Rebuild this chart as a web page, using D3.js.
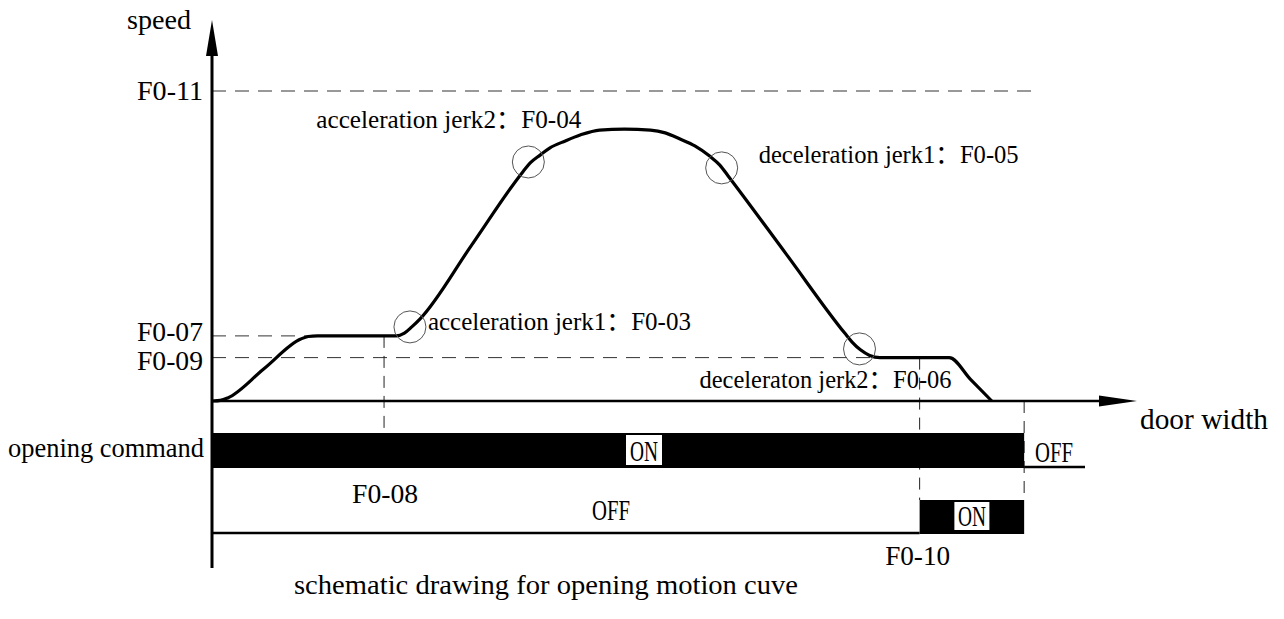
<!DOCTYPE html>
<html>
<head>
<meta charset="utf-8">
<script src="https://cdn.jsdelivr.net/npm/d3@7"></script>
<style>
  html, body { margin: 0; padding: 0; background: #fff; }
  svg { display: block; }
  text { font-family: "Liberation Serif", "Noto Sans CJK SC", "DejaVu Serif", serif; fill: #000; }
</style>
</head>
<body>
<svg id="chart" width="1284" height="619"></svg>
<script>
// door position (0-100) vs speed (0-100, F0-11 = 100)
const curvePos   = [0.1, 0.9, 1.7, 5.65, 9.6, 10.4, 11.4, 19.9, 20.8, 21.6, 22.5, 28.05, 33.6, 34.4, 35.5, 36.5, 38.2, 39.8, 41.9, 44.6, 47.4, 49.0, 50.6, 52.2, 53.8, 54.9, 55.8, 62.1, 68.4, 69.2, 70.1, 71.1, 72.2, 79.7, 82.0, 84.3];
const curveSpeed = [0,   0.2, 1.0, 10.5, 20.0, 20.8, 21,   21,   21.9, 23.9, 26.5, 50.2,  73.9, 76.8, 79.4, 81.6, 83.9, 85.8, 87.4, 87.7, 87.4, 86.5, 84.5, 82.3, 79.0, 76.1, 72.6, 47.3, 21.9, 19.0, 16.5, 14.7, 14,   14,   7,    0];

const levelNames  = ["F0-11", "F0-07", "F0-09"];
const levelValues = [100, 21, 14];
const levelEnds   = [88.6, 10.6, 71.4];   // where each dashed guide stops

const jerkNames = ["acceleration jerk1：F0-03", "acceleration jerk2：F0-04", "deceleration jerk1：F0-05", "deceleraton jerk2：F0-06"];
const jerkPos   = [21.4, 34.2, 55.1, 70.0];
const jerkSpeed = [23.9, 77.1, 75.2, 16.8];

const markerNames = ["F0-08", "F0-10"];
const markerPos   = [18.6, 76.5];
const markerFrom  = [21, 14];   // speed level the guide starts at

const commandOn = [0, 87.8];    // opening command ON range
const outputOn  = [76.5, 87.8]; // F0-10 output ON range

const svg = d3.select("#chart");

const x = d3.scaleLinear().domain([0, 100]).range([212, 1137]);
const y = d3.scaleLinear().domain([0, 100]).range([401, 91]);

// dashed speed guides
levelValues.forEach((v, i) => {
  svg.append("line")
    .attr("x1", x(0)).attr("x2", x(levelEnds[i]))
    .attr("y1", y(v)).attr("y2", y(v))
    .attr("stroke", "#333").attr("stroke-width", 1)
    .attr("stroke-dasharray", "14,9");
});

// level labels left of the axis
const labelDy = [9, 5, 12];
levelNames.forEach((n, i) => {
  svg.append("text")
    .attr("x", 203).attr("y", y(levelValues[i]) + labelDy[i])
    .attr("text-anchor", "end")
    .attr("font-size", 28)
    .attr("textLength", 66).attr("lengthAdjust", "spacingAndGlyphs")
    .text(n);
});

// signal rows
const barTop = 433, barBottom = 468;
const lowHigh = 500, lowBase = 533;

// vertical dashed markers
markerPos.forEach((p, i) => {
  svg.append("line")
    .attr("x1", x(p)).attr("x2", x(p))
    .attr("y1", y(markerFrom[i])).attr("y2", i === 0 ? barTop : lowHigh)
    .attr("stroke", "#222").attr("stroke-width", 1)
    .attr("stroke-dasharray", "12,8");
});
svg.append("line")
  .attr("x1", x(commandOn[1])).attr("x2", x(commandOn[1]))
  .attr("y1", y(0)).attr("y2", lowHigh)
  .attr("stroke", "#222").attr("stroke-width", 1)
  .attr("stroke-dasharray", "12,8");

// opening command bar
svg.append("rect")
  .attr("x", x(commandOn[0])).attr("y", barTop)
  .attr("width", x(commandOn[1]) - x(commandOn[0]))
  .attr("height", barBottom - barTop)
  .attr("fill", "#000");
svg.append("line")
  .attr("x1", x(commandOn[1])).attr("x2", 1085)
  .attr("y1", barBottom - 1).attr("y2", barBottom - 1)
  .attr("stroke", "#000").attr("stroke-width", 2.5);

// output signal
svg.append("line")
  .attr("x1", x(0)).attr("x2", x(outputOn[0]))
  .attr("y1", lowBase).attr("y2", lowBase)
  .attr("stroke", "#000").attr("stroke-width", 2.5);
svg.append("rect")
  .attr("x", x(outputOn[0])).attr("y", lowHigh)
  .attr("width", x(outputOn[1]) - x(outputOn[0]))
  .attr("height", lowBase - lowHigh + 1)
  .attr("fill", "#000");

// ON boxes
function onLabel(cx, top, bottom, w) {
  svg.append("rect")
    .attr("x", cx - w / 2).attr("y", top)
    .attr("width", w).attr("height", bottom - top)
    .attr("fill", "#fff");
  svg.append("text")
    .attr("x", cx).attr("y", bottom - 4)
    .attr("text-anchor", "middle")
    .attr("font-size", 29)
    .attr("textLength", 28).attr("lengthAdjust", "spacingAndGlyphs")
    .text("ON");
}
onLabel(644, 435, 465, 36);
onLabel((x(outputOn[0]) + x(outputOn[1])) / 2, 502, 530, 35);

// OFF labels
svg.append("text").attr("x", 592).attr("y", 520)
  .attr("font-size", 29).attr("textLength", 38).attr("lengthAdjust", "spacingAndGlyphs")
  .text("OFF");
svg.append("text").attr("x", 1035).attr("y", 462)
  .attr("font-size", 29).attr("textLength", 38).attr("lengthAdjust", "spacingAndGlyphs")
  .text("OFF");

// marker labels
svg.append("text").attr("x", x(markerPos[0]) + 1).attr("y", 503)
  .attr("text-anchor", "middle").attr("font-size", 28)
  .attr("textLength", 66).attr("lengthAdjust", "spacingAndGlyphs")
  .text(markerNames[0]);
svg.append("text").attr("x", x(markerPos[1]) - 2).attr("y", 565)
  .attr("text-anchor", "middle").attr("font-size", 28)
  .attr("textLength", 65).attr("lengthAdjust", "spacingAndGlyphs")
  .text(markerNames[1]);

// speed curve
const line = d3.line()
  .x(d => x(d[0]))
  .y(d => y(d[1]))
  .curve(d3.curveMonotoneX);

svg.append("path")
  .datum(curvePos.map((p, i) => [p, curveSpeed[i]]))
  .attr("fill", "none")
  .attr("stroke", "#000")
  .attr("stroke-width", 3.2)
  .attr("stroke-linejoin", "round")
  .attr("d", line);

// jerk circles + labels
const jerkDx = [18, -212, 37, -160];
const jerkDy = [3, -34, -5, 39];
const jerkLen = [263, 265, 260, 252];
jerkPos.forEach((p, i) => {
  svg.append("circle")
    .attr("cx", x(p)).attr("cy", y(jerkSpeed[i]))
    .attr("r", 16)
    .attr("fill", "none")
    .attr("stroke", "#555").attr("stroke-width", 1);
  svg.append("text")
    .attr("x", x(p) + jerkDx[i]).attr("y", y(jerkSpeed[i]) + jerkDy[i])
    .attr("font-size", 25)
    .attr("textLength", jerkLen[i]).attr("lengthAdjust", "spacingAndGlyphs")
    .text(jerkNames[i]);
});

// axes with arrowheads
svg.append("line")
  .attr("x1", x(0)).attr("x2", x(0))
  .attr("y1", 568).attr("y2", 40)
  .attr("stroke", "#000").attr("stroke-width", 3);
svg.append("path")
  .attr("d", `M${x(0)},20 L${x(0) - 6},56 L${x(0) + 6},56 Z`)
  .attr("fill", "#000");

svg.append("line")
  .attr("x1", x(0)).attr("x2", 1105)
  .attr("y1", y(0)).attr("y2", y(0))
  .attr("stroke", "#000").attr("stroke-width", 2.5);
svg.append("path")
  .attr("d", `M${x(100)},${y(0)} L1099,${y(0) - 5.5} L1099,${y(0) + 5.5} Z`)
  .attr("fill", "#000");

// axis titles
svg.append("text").attr("x", 127).attr("y", 29)
  .attr("font-size", 27).attr("textLength", 64).attr("lengthAdjust", "spacingAndGlyphs")
  .text("speed");
svg.append("text").attr("x", 1140).attr("y", 429)
  .attr("font-size", 29).attr("textLength", 128).attr("lengthAdjust", "spacingAndGlyphs")
  .text("door width");
svg.append("text").attr("x", 8).attr("y", 457)
  .attr("font-size", 28).attr("textLength", 196).attr("lengthAdjust", "spacingAndGlyphs")
  .text("opening command");

// caption
svg.append("text").attr("x", 294).attr("y", 594)
  .attr("font-size", 28).attr("textLength", 504).attr("lengthAdjust", "spacingAndGlyphs")
  .text("schematic drawing for opening motion cuve");
</script>
</body>
</html>
